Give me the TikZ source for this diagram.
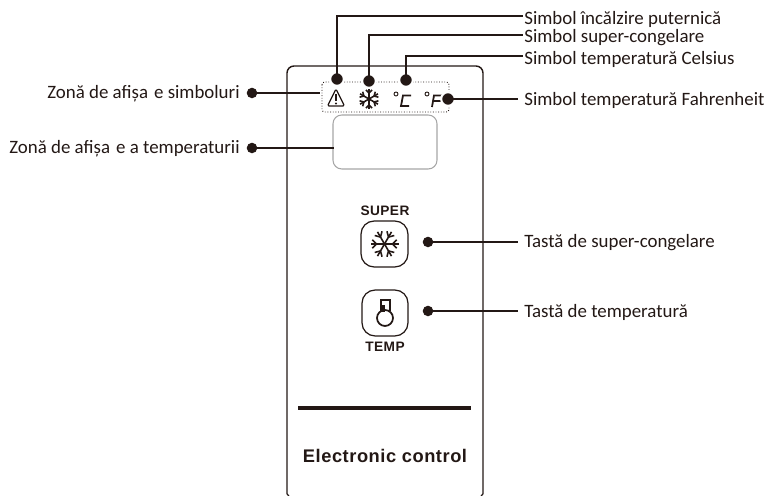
\documentclass[tikz,border=0pt]{standalone}
\usepackage{fontspec}
\setmainfont{Carlito}
\newfontfamily\panelfont[LetterSpace=3]{Liberation Sans}
\definecolor{inkblack}{HTML}{231815}
\tikzset{
	leader/.style={draw=inkblack, line width=0.75pt},
	short/.style={leader, shorten >=2.5pt},
	dotnode/.style={circle, fill=inkblack, draw=white, line width=1.2pt, minimum size=7.8pt, inner sep=0pt},
	plaindot/.style={circle, fill=inkblack, minimum size=6pt, inner sep=0pt},
	textlabel/.style={text=inkblack, font=\fontsize{10.75}{12}\selectfont, inner sep=0pt},
	keytext/.style={text=inkblack, font=\panelfont\bfseries\fontsize{7.8}{9}\selectfont},
	panelline/.style={draw=inkblack, line width=0.8pt},
	keybox/.style={draw=inkblack, line width=0.7pt, rounded corners=7.5pt},
	flakeline/.style={draw=inkblack, line width=0.9pt},
	snowflake/.pic={
		\foreach \a in {0,60,...,300} {
			\draw[flakeline] (0,0) -- (\a:14);
			\draw[flakeline] (\a:8) -- ++(\a+45:6);
			\draw[flakeline] (\a:8) -- ++(\a-45:6);
		}
	}
}

\begin{document}
\begin{tikzpicture}[x=0.02cm,y=-0.02cm]
	\useasboundingbox (0,0) rectangle (769,496);
	% panel
	\draw[panelline, rounded corners=4pt] (287,494) -- (287,66) -- (483,66) -- (483,494);
	\draw[panelline] (287,494) -- (289,496);
	\draw[panelline] (483,494) -- (481,496);
	\draw[inkblack, line width=2pt] (298,408) -- (471,408);
	\node[text=inkblack, font=\panelfont\bfseries\fontsize{10.4}{12}\selectfont] (brand) at (385,456) {Electronic control};
	% symbol zone
	\draw[inkblack, line width=0.5pt, densely dotted, rounded corners=1.5pt] (322,82) rectangle (449,112);
	\draw[gray!70, line width=0.6pt, rounded corners=5pt] (333,115) rectangle (437,169);
	\draw[inkblack, line width=0.7pt, line join=round, rounded corners=0.8pt] (336,89) -- (344.5,106) -- (327.5,106) -- cycle;
	\draw[inkblack, line width=1.1pt] (336,94) -- (336,101);
	\fill[inkblack] (336,103.5) circle (1.1);
	\pic[scale=0.74, rotate=90] at (369,99) {snowflake};
	\draw[inkblack, line width=0.5pt] (396,94) circle (2);
	\draw[inkblack, line width=1pt] (411,95.5) -- (403,95.5) -- (401,106) -- (409,106);
	\draw[inkblack, line width=0.5pt] (427,94) circle (2);
	\draw[inkblack, line width=1pt] (442,95.5) -- (434,95.5) -- (432,107) (433,101) -- (441,101);
	% keys
	\node[keytext] (superlabel) at (385,211) {SUPER};
	\draw[keybox] (361,221) rectangle (408,267);
	\pic at (384.5,244) {snowflake};
	\draw[keybox] (362,290) rectangle (408,336);
	\begin{scope}[shift={(385,318)}, inkblack, line width=1pt]
		\draw (-4,-7) -- (-4,-18) -- (5,-18) -- (5,-7);
		\draw (0,0) circle (8);
		\fill (-5,-13) rectangle (0,-6);
	\end{scope}
	\node[keytext] (templabel) at (385,347) {TEMP};
	% callout dots
	\node[dotnode] (dotwarn) at (337,79) {};
	\node[dotnode] (dotsnow) at (369,81) {};
	\node[dotnode] (dotcels) at (406,80) {};
	\node[dotnode] (dotfahr) at (448,99) {};
	\node[plaindot] (dotzone) at (252,93) {};
	\node[plaindot] (dottemp) at (252,148) {};
	\node[plaindot] (dotsuper) at (428,242) {};
	\node[plaindot] (dotkey) at (428,311) {};
	% callout labels
	\node[textlabel, anchor=west] (lblwarn) at (524,19) {Simbol încălzire puternică};
	\node[textlabel, anchor=west] (lblsnow) at (524,38) {Simbol super-congelare};
	\node[textlabel, anchor=west] (lblcels) at (524,59) {Simbol temperatură Celsius};
	\node[textlabel, anchor=west] (lblfahr) at (524,100) {Simbol temperatură Fahrenheit};
	\node[textlabel, anchor=west] (lblsuper) at (524,243) {Tastă de super-congelare};
	\node[textlabel, anchor=west] (lblkey) at (524,312) {Tastă de temperatură};
	\node[textlabel, anchor=east] (lblzone) at (240,94) {Zonă de afișa\hspace{1pt} e simboluri};
	\node[textlabel, anchor=east] (lbltemp) at (240,149) {Zonă de afișa\hspace{1pt} e a temperaturii};
	\coordinate (warnend) at (523,16);
	\coordinate (snowend) at (523,35);
	\coordinate (celsend) at (523,56);
	\coordinate (fahrend) at (518,99);
	\coordinate (superend) at (518,242);
	\coordinate (keyend) at (518,311);
	\coordinate (zoneend) at (320,93);
	\coordinate (tempend) at (334,148);
	% connectors
	\draw[leader] (dotwarn.center) |- (warnend);
	\draw[leader] (dotsnow.center) |- (snowend);
	\draw[leader] (dotcels.center) |- (celsend);
	\draw[leader] (dotfahr.center) -- (fahrend);
	\draw[leader] (dotsuper.center) -- (superend);
	\draw[leader] (dotkey.center) -- (keyend);
	\draw[leader] (dotzone.center) -- (zoneend);
	\draw[leader] (dottemp.center) -- (tempend);
\end{tikzpicture}
\end{document}
